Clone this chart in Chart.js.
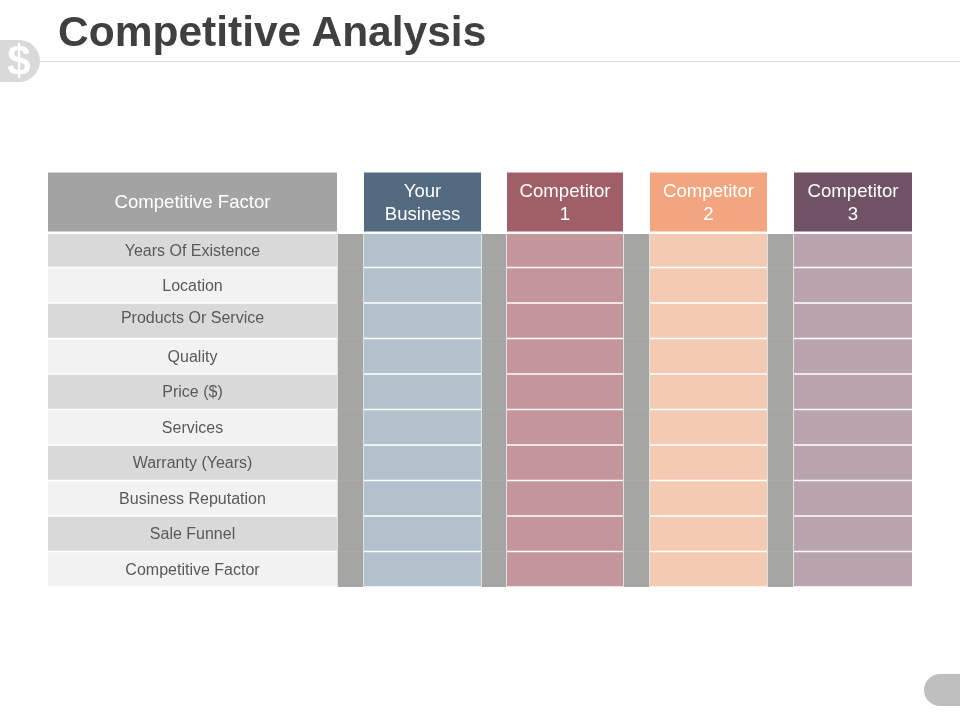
<!DOCTYPE html>
<html>
<head>
<meta charset="utf-8">
<title>Competitive Analysis</title>
<script src="https://cdn.jsdelivr.net/npm/chart.js@4"></script>
<style>
html,body{margin:0;padding:0;background:#fff;width:960px;height:720px;overflow:hidden}
body{position:relative;font-family:"Liberation Sans",Arial,sans-serif}
canvas{position:absolute;left:0;top:0}
h1{position:absolute;left:58px;top:8px;margin:0;font-size:42.5px;line-height:47px;font-weight:bold;color:#404040;white-space:nowrap}
#rule{position:absolute;left:40px;right:0;top:61px;height:1px;background:#d9d9d9}
#logo{position:absolute;left:0;top:40px;width:38px;padding-right:2px;height:42px;background:#d9d9d9;border-radius:0 21px 21px 0;color:#fff;font-weight:bold;font-size:42px;line-height:42px;text-align:center}
#pill{position:absolute;left:924px;top:674px;width:36px;height:32px;background:#bfbfbf;border-radius:16px 0 0 16px}
</style>
</head>
<body>
<canvas id="c" width="960" height="720"></canvas>
<h1>Competitive Analysis</h1>
<div id="rule"></div>
<div id="logo">$</div>
<div id="pill"></div>
<script>
const factors = ["Years Of Existence","Location","Products Or Service","Quality","Price ($)","Services","Warranty (Years)","Business Reputation","Sale Funnel","Competitive Factor"];
const factorHeader = "Competitive Factor";
const competitorHeaders = [["Your","Business"],["Competitor","1"],["Competitor","2"],["Competitor","3"]];
const headerColors = ["#546a80","#a05f67","#f2a57f","#6f5264"];
const cellColors = ["#b3c1cc","#c4959b","#f5cab3","#b8a3af"];
const factorColors = ["#d9d9d9","#f2f2f2"];
const spacerColor = "#a5a5a4";
const headerGray = "#a3a3a3";
const factorSpan = [0,289];
const spacerSpans = [[290,315],[434,458],[576,601],[720,745]];
const cellSpans = [[316,433],[459,575],[602,719],[746,864]];
const labelNudge = [1.5,1.8,-1.7,1.8,1.3,1.8,1.3,1.8,1.3,1.8];

const bodyClip = {left:0,top:-2,right:0,bottom:0};
const rowFill = span => factors.map(() => span);
const datasets = [];
datasets.push({yAxisID:"yHead",data:[factorSpan],backgroundColor:headerGray,barPercentage:59/60,categoryPercentage:1,grouped:false,headerLines:[factorHeader]});
competitorHeaders.forEach((lines,i)=>{
  datasets.push({yAxisID:"yHead",data:[cellSpans[i]],backgroundColor:headerColors[i],barPercentage:59/60,categoryPercentage:1,grouped:false,headerLines:lines});
});
datasets.push({yAxisID:"yBody",data:rowFill(factorSpan),backgroundColor:factors.map((_,i)=>factorColors[i%2]),barPercentage:0.96,categoryPercentage:1,grouped:false,clip:bodyClip,rowLabels:factors});
spacerSpans.forEach(span=>{
  datasets.push({yAxisID:"yBody",data:rowFill(span),backgroundColor:spacerColor,barPercentage:1,categoryPercentage:1,grouped:false,clip:bodyClip});
});
cellSpans.forEach((span,i)=>{
  datasets.push({yAxisID:"yBody",data:rowFill(span),backgroundColor:cellColors[i],barPercentage:0.96,categoryPercentage:1,grouped:false,clip:bodyClip});
});

const cellText = {
  id:"cellText",
  afterDatasetsDraw(chart){
    const ctx = chart.ctx;
    ctx.save();
    ctx.textAlign = "center";
    ctx.textBaseline = "middle";
    chart.data.datasets.forEach((ds,di)=>{
      const bars = chart.getDatasetMeta(di).data;
      if(ds.headerLines){
        ctx.font = '18.6px "Liberation Sans"';
        ctx.fillStyle = "#ffffff";
        const b = bars[0], cx = (b.x+b.base)/2, n = ds.headerLines.length;
        ds.headerLines.forEach((t,k)=>ctx.fillText(t,cx,b.y+1+(k-(n-1)/2)*23));
      }
      if(ds.rowLabels){
        ctx.font = '16px "Liberation Sans"';
        ctx.fillStyle = "#595959";
        ds.rowLabels.forEach((t,k)=>{
          const b = bars[k];
          ctx.fillText(t,(b.x+b.base)/2,b.y+labelNudge[k]);
        });
      }
    });
    ctx.restore();
  }
};

new Chart(document.getElementById("c"),{
  type:"bar",
  data:{datasets},
  plugins:[cellText],
  options:{
    indexAxis:"y",
    responsive:false,
    animation:false,
    layout:{padding:{left:48,right:48,top:172,bottom:133}},
    plugins:{legend:{display:false},title:{display:false},tooltip:{enabled:false}},
    scales:{
      x:{type:"linear",min:0,max:864,display:false},
      yBody:{type:"category",labels:factors,stack:"table",stackWeight:355,position:"left",display:false,offset:true},
      yHead:{type:"category",labels:["Header"],stack:"table",stackWeight:60,position:"left",display:false,offset:true}
    }
  }
});
</script>
</body>
</html>
